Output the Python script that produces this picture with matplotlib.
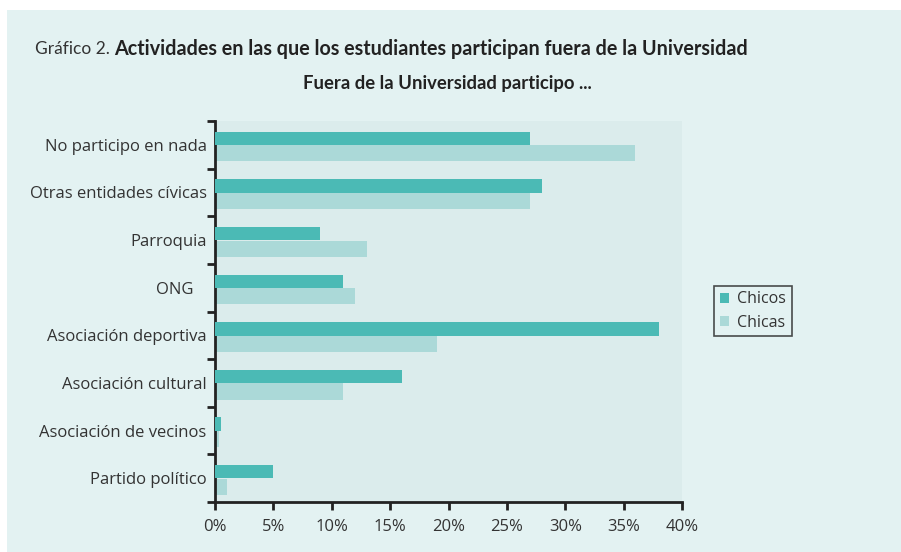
import matplotlib
matplotlib.use("Agg")
import matplotlib.pyplot as plt
from matplotlib.patches import Rectangle
from matplotlib.ticker import FuncFormatter, FixedLocator
import numpy as np

categories = ["No participo en nada", "Otras entidades cívicas", "Parroquia", "ONG   ",
              "Asociación deportiva", "Asociación cultural", "Asociación de vecinos", "Partido político"]
chicos = [27, 28, 9, 11, 38, 16, 0.5, 5]
chicas = [36, 27, 13, 12, 19, 11, 0.3, 1]
series_names = ["Chicos", "Chicas"]
xticks = [0, 5, 10, 15, 20, 25, 30, 35, 40]

c_chicos = "#4BBAB5"
c_chicas = "#ABD9D8"
fig_bg = "#E3F2F2"
ax_bg = "#DBECEC"
txt = "#333333"

plt.rcParams['font.family'] = ['Open Sans', 'DejaVu Sans']

fig = plt.figure(figsize=(9.01, 5.52), dpi=100)
fig.patch.set_facecolor("white")
fig.patches.append(Rectangle((7/901, 0), 1, 1 - 10/552, transform=fig.transFigure,
                             facecolor=fig_bg, edgecolor="none", zorder=-10))

ax = fig.add_axes([215/901, (552-502)/552, 467/901, 381/552])
ax.set_facecolor(ax_bg)

y = np.arange(len(categories))
ax.barh(y - 0.135, chicos, height=0.28, color=c_chicos, label=series_names[0], zorder=3)
ax.barh(y + 0.18, chicas, height=0.34, color=c_chicas, label=series_names[1], zorder=2)

ax.set_ylim(len(categories) - 0.5, -0.5)
ax.set_xlim(0, 40)
ax.set_yticks(y)
ax.set_yticklabels(categories, fontsize=12, color=txt)
ax.yaxis.set_minor_locator(FixedLocator(np.arange(-0.5, len(categories), 1)))
ax.tick_params(axis='y', which='major', length=0, pad=6)
ax.tick_params(axis='y', which='minor', length=6, width=2, color="#222222", direction='out')
ax.set_xticks(xticks)
ax.xaxis.set_major_formatter(FuncFormatter(lambda v, p: f"{int(v)}%"))
ax.tick_params(axis='x', length=6, width=2, color="#222222", labelsize=12, labelcolor=txt, pad=6)

for s in ["top", "right"]:
    ax.spines[s].set_visible(False)
for s in ["left", "bottom"]:
    ax.spines[s].set_linewidth(2)
    ax.spines[s].set_color("#222222")

leg = ax.legend(loc="center left", bbox_to_anchor=(714/901, (552-311)/552), bbox_transform=fig.transFigure,
                frameon=True, fancybox=False, fontsize=11.5, handlelength=0.6, handleheight=0.6,
                handletextpad=0.5, borderpad=0.35, labelspacing=0.45, borderaxespad=0)
leg.get_frame().set_edgecolor("#222222")
leg.get_frame().set_linewidth(1.2)
leg.get_frame().set_facecolor(fig_bg)
for t in leg.get_texts():
    t.set_color(txt)

fig.text(35/901, 1 - 49/552, "Gráfico 2.", fontsize=12.5, color=txt, va="center", ha="left",
         family=['Lato', 'DejaVu Sans'])
fig.text(114/901, 1 - 49/552, "Actividades en las que los estudiantes participan fuera de la Universidad",
         fontsize=14.2, fontweight="bold", color="#222222", va="center", ha="left",
         family=['Lato', 'DejaVu Sans'])
fig.text(447/901, 1 - 83/552, "Fuera de la Universidad participo ...", fontsize=13.3,
         fontweight="bold", color="#222222", va="center", ha="center",
         family=['Lato', 'DejaVu Sans'])

fig.savefig("out.png", dpi=100, facecolor=fig.get_facecolor())
